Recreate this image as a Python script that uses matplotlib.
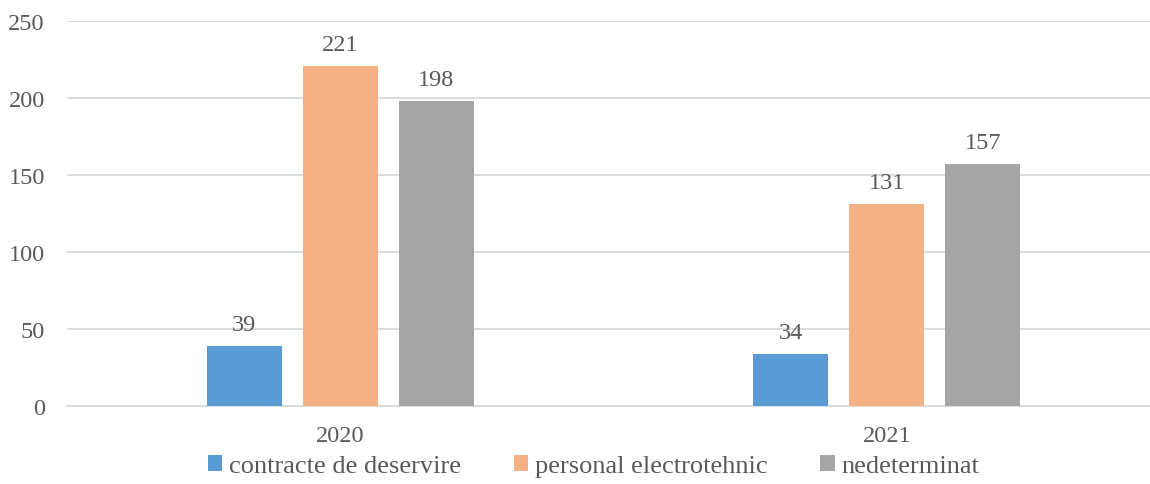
import matplotlib.pyplot as plt
import numpy as np

# Data
years = ['2020', '2021']
series = ['contracte de deservire', 'personal electrotehnic', 'nedeterminat']
contracte = [39, 34]
personal = [221, 131]
nedeterminat = [198, 157]
colors = ['#5B9BD5', '#F4B183', '#A5A5A5']

plt.rcParams['font.family'] = ['Liberation Serif', 'DejaVu Serif']
text_color = '#595959'
grid_color = '#D9D9D9'
fs = 17.5

fig = plt.figure(figsize=(11.5, 4.85), dpi=100)
# axes extends slightly past the right edge, as in the reference
ax = fig.add_axes([67 / 1150, 78 / 485, 1093 / 1150, 385 / 485])

x = np.arange(len(years))
width = 0.137
step = 0.176
for i, (vals, name) in enumerate(zip([contracte, personal, nedeterminat], series)):
    bars = ax.bar(x + (i - 1) * step, vals, width, color=colors[i], label=name, zorder=3)
    ax.bar_label(bars, padding=8, fontsize=fs, color=text_color)

ax.set_xlim(-0.5, 1.5)
ax.set_ylim(0, 250)
ax.set_yticks(range(0, 251, 50))
ax.set_xticks(x)
ax.set_xticklabels(years)
ax.tick_params(axis='both', length=0, labelsize=fs, labelcolor=text_color)
ax.tick_params(axis='x', pad=14)
ax.tick_params(axis='y', pad=16)

ax.grid(axis='y', color=grid_color, linewidth=1.3, zorder=0)
for s in ['top', 'right', 'left']:
    ax.spines[s].set_visible(False)
ax.spines['bottom'].set_color(grid_color)
ax.spines['bottom'].set_linewidth(1.3)

leg = fig.legend(loc='center', bbox_to_anchor=(0.516, 0.037), ncol=3, frameon=False,
                 fontsize=19, handlelength=0.55, handleheight=0.55, handletextpad=0.25,
                 columnspacing=2.0, labelcolor=text_color)

plt.savefig('out.png', dpi=100)
